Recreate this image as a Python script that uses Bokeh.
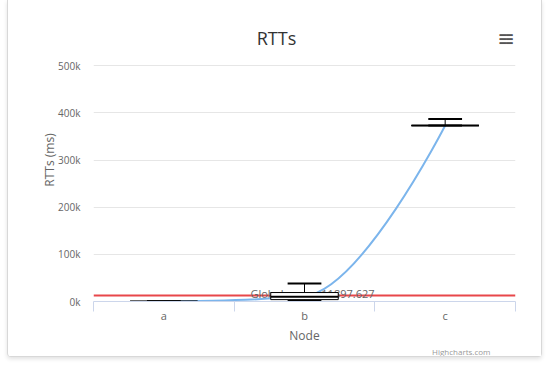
from bokeh.plotting import figure
from bokeh.models import (Range1d, LinearAxis, FixedTicker, Label, Title, ColumnDataSource)
from bokeh.transform import dodge
from bokeh.embed import file_html
from bokeh.resources import INLINE
from bokeh.core.properties import value

# ---- data ----
categories = ["a", "b", "c"]
low = [0, 800, 373000]
q1 = [100, 4000, 373000]
median = [200, 10000, 373000]
q3 = [300, 19000, 373000]
high = [500, 38000, 387000]
means = [200, 11500, 373000]
global_mean = 11897.627
y_ticks = [0, 100000, 200000, 300000, 400000, 500000]
y_tick_labels = ["0k", "100k", "200k", "300k", "400k", "500k"]

FONT = "Open Sans"
n = len(categories)
centers = [i + 0.5 for i in range(n)]   # category slots on the axis
y_top = y_ticks[-1]

# frame extends above the 500k line so the header sits inside it
p = figure(x_range=Range1d(0, n), y_range=Range1d(0, y_top * 1.2),
           width=535, height=357, output_backend="svg", toolbar_location=None,
           x_axis_location=None, min_border_left=85, min_border_right=28,
           min_border_top=18, min_border_bottom=56)
p.title.visible = False
p.styles = {"margin-left": "7px",
            "border-left": "1px solid #d8d8d8", "border-right": "1px solid #d8d8d8",
            "border-bottom": "1px solid #d8d8d8", "border-radius": "0 0 4px 4px",
            "box-shadow": "0 2px 4px rgba(0,0,0,0.12)"}
p.outline_line_color = None
p.background_fill_color = "white"
p.border_fill_color = "white"

# x axis (category axis with boundary tick marks)
xaxis = LinearAxis(ticker=FixedTicker(ticks=centers, minor_ticks=list(range(n + 1))),
                   major_label_overrides={c: lab for c, lab in zip(centers, categories)})
xaxis.major_tick_line_color = None
xaxis.major_tick_out = 0
xaxis.major_tick_in = 0
xaxis.minor_tick_out = 10
xaxis.minor_tick_in = 0
xaxis.minor_tick_line_color = "#ccd6eb"
xaxis.axis_line_color = "#ccd6eb"
xaxis.major_label_text_font = FONT
xaxis.major_label_text_font_size = "11px"
xaxis.major_label_text_color = "#666666"
xaxis.major_label_standoff = -4
xaxis.axis_label = "Node"
xaxis.axis_label_text_font = FONT
xaxis.axis_label_text_font_size = "12px"
xaxis.axis_label_text_font_style = "normal"
xaxis.axis_label_text_color = "#666666"
xaxis.axis_label_standoff = 1
p.add_layout(xaxis, "below")

# credits
p.add_layout(Title(text="Highcharts.com", align="right", offset=25, standoff=-6,
                   text_font=FONT, text_font_size="8px", text_font_style="normal",
                   text_color="#999999"), "below")

# y axis
yaxis = p.yaxis[0]
yaxis.ticker = FixedTicker(ticks=y_ticks)
yaxis.major_label_overrides = dict(zip(y_ticks, y_tick_labels))
yaxis.major_tick_line_color = None
yaxis.minor_tick_line_color = None
yaxis.major_tick_out = 0
yaxis.axis_line_color = None
yaxis.major_label_text_font = FONT
yaxis.major_label_text_font_size = "10px"
yaxis.major_label_text_color = "#666666"
yaxis.major_label_standoff = 13
yaxis.axis_label = "RTTs (ms)"
yaxis.axis_label_text_font = FONT
yaxis.axis_label_text_font_size = "12px"
yaxis.axis_label_text_font_style = "normal"
yaxis.axis_label_text_color = "#666666"
yaxis.axis_label_standoff = -3
p.ygrid.ticker = FixedTicker(ticks=y_ticks)
p.ygrid.grid_line_color = "#e6e6e6"
p.xgrid.grid_line_color = None

# global mean plot line + label
p.hspan(y=[global_mean], line_color="#e8474a", line_width=2)
p.text(x=[n / 2], y=[global_mean], text=[f"Global mean: {global_mean}"],
       text_align="center", text_baseline="alphabetic",
       x_offset=8, y_offset=-2, text_font=value(FONT), text_font_size="11px",
       text_color="#666666")

# spline through the means (Highcharts spline control points)
def spline_segments(xs, ys, smoothing=1.5):
    m = len(xs)
    lc = [None] * m
    rc = [None] * m
    denom = smoothing + 1
    for i in range(1, m - 1):
        px, py = xs[i], ys[i]
        lx, ly = xs[i - 1], ys[i - 1]
        nx, ny = xs[i + 1], ys[i + 1]
        lcx = (smoothing * px + lx) / denom
        lcy = (smoothing * py + ly) / denom
        rcx = (smoothing * px + nx) / denom
        rcy = (smoothing * py + ny) / denom
        if rcx != lcx:
            corr = ((rcy - lcy) * (rcx - px)) / (rcx - lcx) + py - rcy
            lcy += corr
            rcy += corr
        if lcy > ly and lcy > py:
            lcy = max(ly, py); rcy = 2 * py - lcy
        elif lcy < ly and lcy < py:
            lcy = min(ly, py); rcy = 2 * py - lcy
        if rcy > ny and rcy > py:
            rcy = max(ny, py); lcy = 2 * py - rcy
        elif rcy < ny and rcy < py:
            rcy = min(ny, py); lcy = 2 * py - rcy
        lc[i] = (lcx, lcy)
        rc[i] = (rcx, rcy)
    seg = dict(x0=[], y0=[], x1=[], y1=[], cx0=[], cy0=[], cx1=[], cy1=[])
    for i in range(1, m):
        c0 = rc[i - 1] or (xs[i - 1], ys[i - 1])
        c1 = lc[i] or (xs[i], ys[i])
        seg["x0"].append(xs[i - 1]); seg["y0"].append(ys[i - 1])
        seg["x1"].append(xs[i]); seg["y1"].append(ys[i])
        seg["cx0"].append(c0[0]); seg["cy0"].append(c0[1])
        seg["cx1"].append(c1[0]); seg["cy1"].append(c1[1])
    return seg

seg = spline_segments(centers, means)
p.bezier(x0="x0", y0="y0", x1="x1", y1="y1", cx0="cx0", cy0="cy0", cx1="cx1", cy1="cy1",
         source=ColumnDataSource(seg), line_color="#7cb5ec", line_width=2)

# box plot
src = ColumnDataSource(dict(x=centers, low=low, q1=q1, median=median, q3=q3, high=high))
p.segment(x0="x", y0="q3", x1="x", y1="high", source=src, line_color="black", line_width=1)
p.segment(x0="x", y0="q1", x1="x", y1="low", source=src, line_color="black", line_width=1)
p.vbar(x="x", width=0.48, bottom="q1", top="q3", source=src,
       fill_color="white", line_color="black", line_width=1)
p.segment(x0=dodge("x", -0.12), y0="high", x1=dodge("x", 0.12), y1="high",
          source=src, line_color="black", line_width=2)
p.segment(x0=dodge("x", -0.12), y0="low", x1=dodge("x", 0.12), y1="low",
          source=src, line_color="black", line_width=2)
p.segment(x0=dodge("x", -0.24), y0="median", x1=dodge("x", 0.24), y1="median",
          source=src, line_color="black", line_width=2)

# chart title (anchored to the top grid line, offset in pixels)
p.add_layout(Label(x=n / 2, y=y_top, x_offset=-28, y_offset=28, text="RTTs",
                   text_align="center", text_baseline="middle", text_font=FONT,
                   text_font_size="18px", text_color="#333333"))
# menu icon: three separate bars
for dy in (30, 26, 22):
    p.add_layout(Label(x=n, y=y_top, x_offset=-9.5, y_offset=dy, text="\u2501\u2501",
                       text_align="center", text_baseline="middle",
                       text_font="DejaVu Sans Mono", text_font_size="11px",
                       text_color="#555555"))

open("out.html", "w").write(file_html(p, INLINE))
